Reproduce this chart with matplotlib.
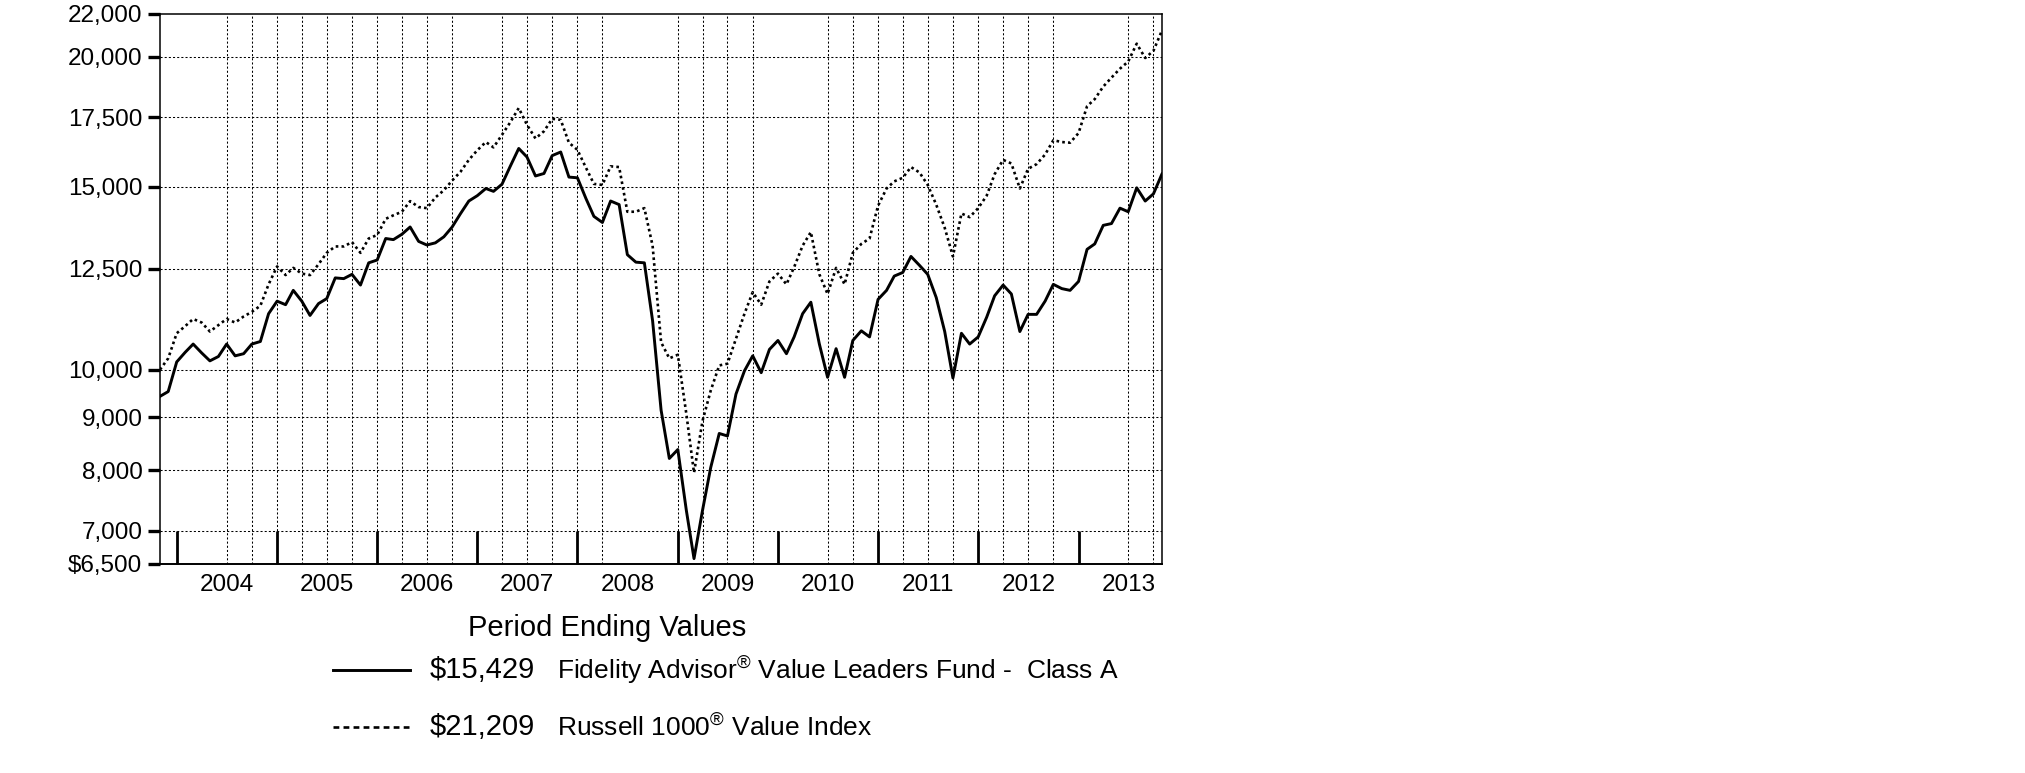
# Growth of $10,000 chart (fund vs index), log scale

import pandas as pd
import matplotlib
matplotlib.use("Agg")
from matplotlib import pyplot as plt
from matplotlib.lines import Line2D
from matplotlib.ticker import FixedLocator, NullLocator, FixedFormatter

# --------------------------------------------
# data
# --------------------------------------------

# month ends, Oct 2003 .. Oct 2013
dates = pd.date_range("2003-10-31", "2013-10-31", freq="ME")

fund_values = [
    9425, 9526, 10173, 10393, 10584, 10378, 10197, 10296, 10584, 10311,
    10360, 10584, 10644, 11321, 11640, 11549, 11922, 11640, 11277, 11577,
    11706, 12256, 12236, 12353, 12063, 12672, 12752, 13374, 13341, 13501,
    13720, 13289, 13183, 13246, 13425, 13717, 14137, 14533, 14707, 14942,
    14848, 15086, 15695, 16329, 16022, 15363, 15448, 16073, 16201, 15325,
    15301, 14614, 14047, 13858, 14533, 14418, 12903, 12691, 12672, 11145,
    9141, 8213, 8377, 7321, 6578, 7321, 8052, 8681, 8633, 9473,
    9975, 10311, 9933, 10459, 10668, 10360, 10753, 11321, 11613, 10584,
    9832, 10476, 9832, 10668, 10899, 10753, 11686, 11922, 12305, 12404,
    12853, 12602, 12353, 11735, 10882, 9816, 10840, 10584, 10753, 11233,
    11779, 12063, 11827, 10882, 11304, 11304, 11640, 12082, 11968, 11922,
    12160, 13057, 13215, 13770, 13825, 14305, 14192, 14965, 14533, 14766,
    15429,
]

index_values = [
    10000, 10254, 10840, 11013, 11189, 11101, 10882, 11038, 11189, 11101,
    11251, 11367, 11522, 12082, 12571, 12333, 12531, 12373, 12333, 12632,
    12956, 13141, 13141, 13268, 12956, 13374, 13480, 13970, 14080, 14192,
    14530, 14340, 14305, 14648, 14883, 15206, 15510, 15921, 16265, 16563,
    16368, 16831, 17303, 17860, 17208, 16695, 16964, 17440, 17398, 16539,
    16278, 15646, 15096, 15061, 15695, 15669, 14192, 14192, 14305, 13163,
    10626, 10254, 10336, 9068, 7957, 8926, 9548, 10094, 10133, 10711,
    11321, 11874, 11549, 12160, 12373, 12082, 12551, 13163, 13566, 12353,
    11827, 12531, 12082, 12956, 13215, 13374, 14384, 14942, 15180, 15301,
    15669, 15483, 15061, 14418, 13695, 12853, 14137, 14023, 14305, 14707,
    15425, 15921, 15795, 14942, 15610, 15771, 16110, 16630, 16563, 16539,
    16896, 17932, 18217, 18730, 19105, 19488, 19800, 20599, 19956, 20276,
    21209,
]

y_ticks = [6500, 7000, 8000, 9000, 10000, 12500, 15000, 17500, 20000, 22000]
y_labels = ["\\$6,500", "7,000", "8,000", "9,000", "10,000", "12,500",
            "15,000", "17,500", "20,000", "22,000"]
years = [2004, 2005, 2006, 2007, 2008, 2009, 2010, 2011, 2012, 2013]

# quarter ends that have no vertical grid line in the original
skip_grid = ["2003-12-31", "2004-03-31", "2006-12-31", "2008-06-30",
             "2008-09-30", "2009-12-31", "2010-03-31", "2012-12-31",
             "2013-03-31"]

fund_label = "Fidelity Advisor$^{®}$ Value Leaders Fund -  Class A"
index_label = "Russell 1000$^{®}$ Value Index"
fund_end = "\\$15,429"
index_end = "\\$21,209"
legend_title = "Period Ending Values"

# --------------------------------------------
# figure
# --------------------------------------------

plt.rcParams["font.family"] = ["Liberation Sans", "DejaVu Sans"]
plt.rcParams["mathtext.fontset"] = "custom"
plt.rcParams["mathtext.rm"] = "Liberation Sans"

fig = plt.figure(figsize=(20.25, 7.73), dpi=100)
ax = fig.add_axes([0.079, 0.2704, 0.4948, 0.7115])

# grid (dotted)
grid_kw = dict(color="black", linewidth=0.75, linestyle=(0, (2, 2)), zorder=1)
for v in y_ticks[1:-1]:
    ax.axhline(v, **grid_kw)
quarters = pd.date_range("2003-12-31", "2013-09-30", freq="QE")
for q in quarters:
    if q.strftime("%Y-%m-%d") not in skip_grid:
        ax.axvline(q, **grid_kw)

# series
ax.plot(dates, fund_values, color="black", linewidth=2.1, zorder=3)
ax.plot(dates, index_values, color="black", linewidth=1.9,
        linestyle=(0, (1.0, 1.2)), zorder=3)

ax.set_yscale("log")
ax.set_ylim(6500, 22000)
ax.set_xlim(dates[0], dates[-1])

ax.yaxis.set_major_locator(FixedLocator(y_ticks))
ax.yaxis.set_major_formatter(FixedFormatter(y_labels))
ax.yaxis.set_minor_locator(NullLocator())
ax.tick_params(axis="y", which="major", direction="out", length=8.6,
               width=2.4, labelsize=17.5, pad=4)

# year boundary ticks, labels centred in each year
year_ends = pd.to_datetime([f"{y - 1}-12-31" for y in years])
mid_years = pd.to_datetime([f"{y}-07-01" for y in years])
ax.xaxis.set_major_locator(FixedLocator(matplotlib.dates.date2num(year_ends)))
ax.xaxis.set_major_formatter(FixedFormatter([""] * len(years)))
ax.xaxis.set_minor_locator(FixedLocator(matplotlib.dates.date2num(mid_years)))
ax.xaxis.set_minor_formatter(FixedFormatter([str(y) for y in years]))
ax.tick_params(axis="x", which="major", direction="in", length=24, width=2.0)
ax.tick_params(axis="x", which="minor", length=0, labelsize=17.5, pad=7)

for side in ["top", "right", "left"]:
    ax.spines[side].set_linewidth(1.1)
ax.spines["bottom"].set_linewidth(1.4)

# --------------------------------------------
# legend (drawn by hand)
# --------------------------------------------

fig.text(0.2311, 0.1876, legend_title, fontsize=21, va="center")

fig.add_artist(Line2D([0.1644, 0.2025], [0.1332, 0.1332], color="black",
                      linewidth=2.1))
fig.add_artist(Line2D([0.1644, 0.2025], [0.0595, 0.0595], color="black",
                      linewidth=1.9, linestyle=(0, (2.2, 1.6))))

fig.text(0.2123, 0.1332, fund_end, fontsize=21, va="center")
fig.text(0.2749, 0.1332, fund_label, fontsize=19, va="center")
fig.text(0.2123, 0.0595, index_end, fontsize=21, va="center")
fig.text(0.2749, 0.0595, index_label, fontsize=19, va="center")

fig.savefig("out.png", dpi=100)
